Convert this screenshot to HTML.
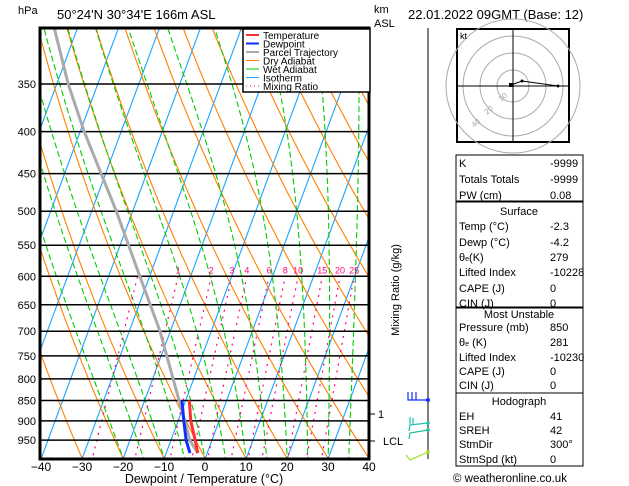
<!DOCTYPE html>
<html><head><meta charset="utf-8"><style>
html,body{margin:0;padding:0;background:#fff;}
svg{display:block;font-family:"Liberation Sans",sans-serif;}
</style></head><body>
<svg id="s" width="629" height="486" xmlns="http://www.w3.org/2000/svg">
<defs><clipPath id="pc"><rect x="40" y="28" width="329" height="431"/></clipPath></defs>
<g id="grid" clip-path="url(#pc)"></g>
<g id="series" clip-path="url(#pc)"></g>
<g id="axes"></g>
</svg>
<script>
// ---- data ----
const pressureLevels=[350,400,450,500,550,600,650,700,750,800,850,900,950];
const tempTicks=[-40,-30,-20,-10,0,10,20,30,40];
const isotherms=[-120,-110,-100,-90,-80,-70,-60,-50,-40,-30,-20,-10,0,10,20,30,40];
const dryAdiabatsC=[-60,-50,-40,-30,-20,-10,0,10,20,30,40,50,60,70,80,90,100,110,120,130,140,150];
const wetAdiabatsC=[-20,-15,-10,-5,0,5,10,15,20,25,30,35];
const mixRatios=[0.4,1,2,3,4,6,8,10,15,20,25];
const mixLabels=["1","2","3","4","6","8","10","15","20","25"];
const obsP=[985,950,900,850];
const obsT=[-2.3,-4.1,-6.9,-9.1];
const obsTd=[-4.2,-6.3,-8.6,-10.9];
const parcelP=[985,950,900,850,800,700,600,500,450,400,350,300];
const parcelT=[-2.3,-5.4,-8.4,-11.6,-15.0,-22.5,-32.4,-44.0,-51.1,-59.0,-67.2,-75.5];
// ---- axis functions ----
const SK=0.37, Y0=84, YS=356.7;
function py(p){return Y0+YS*(Math.log(p)-Math.log(350));}
function tx(T,p){return 205+4.1*T+SK*(459-py(p));}
const NS="http://www.w3.org/2000/svg";
function mk(tag,parent,attrs){const e=document.createElementNS(NS,tag);for(const k in attrs)e.setAttribute(k,attrs[k]);parent.appendChild(e);return e;}
const grid=document.getElementById('grid'),ser=document.getElementById('series'),ax=document.getElementById('axes'),svg=document.getElementById('s');
function pathFrom(pts){return pts.map((q,i)=>(i?'L':'M')+q[0].toFixed(1)+' '+q[1].toFixed(1)).join('');}
isotherms.forEach(T=>{
 const e=mk('path',grid,{d:pathFrom([[tx(T,1010),py(1010)],[tx(T,290),py(290)]]),stroke:'#1aa3ff',fill:'none','stroke-width':1.1});
 
 
});
dryAdiabatsC.forEach(tc=>{
 const th=tc+273.15,pts=[];
 for(let p=1010;p>=290;p-=10)pts.push([tx(th*Math.pow(p/1000,0.2857)-273.15,p),py(p)]);
 const e=mk('path',grid,{d:pathFrom(pts),stroke:'#ff8000',fill:'none','stroke-width':1.1});
 
 
});
function es(tc){return 6.112*Math.exp(17.67*tc/(tc+243.5));}
function moist(T0,p0,p1){const pts=[];let T=T0+273.15,p=p0,dp=p1<p0?-2:2;
 while((dp<0&&p>=p1)||(dp>0&&p<=p1)){pts.push([T-273.15,p]);
  const e=es(T-273.15),rs=0.622*e/(p-e),Rd=287,Lv=2.5e6,cp=1005;
  const g=(Rd*T+Lv*rs)/(cp+Lv*Lv*rs*0.622/(Rd*T*T))/p; T+=g*dp; p+=dp;}
 return pts;}
wetAdiabatsC.forEach(tw=>{
 const pts=moist(tw,1000,290);
 const down=moist(tw,1000,1012).reverse();
 const all=down.concat(pts).map(q=>[tx(q[0],q[1]),py(q[1])]);
 const e=mk('path',grid,{d:pathFrom(all),stroke:'#00cc00',fill:'none','stroke-width':1.1,'stroke-dasharray':'6,3'});
 
 
});
function tdFromW(w,p){const e=w*p/(622+w);const l=Math.log(e/6.112);return 243.5*l/(17.67-l);}
mixRatios.forEach(w=>{
 const e=mk('path',grid,{d:pathFrom([[tx(tdFromW(w,1010),1010),py(1010)],[tx(tdFromW(w,600),600),py(600)]]),stroke:'#ff0080',fill:'none','stroke-width':1.2,'stroke-dasharray':'2,5'});
 
 
});
mixLabels.forEach(s=>{
 const w=parseFloat(s);
 const t=mk('text',grid,{x:tx(tdFromW(w,600),600),y:py(600)-3,fill:'#ff0080','font-size':9,'text-anchor':'middle'});t.textContent=s;
 
 
});
pressureLevels.forEach(p=>{
 const e=mk('line',grid,{x1:40,x2:369,y1:py(p),y2:py(p),stroke:'#000','stroke-width':1.5});
 
 
 const t=mk('text',ax,{x:36,y:py(p)+4,'font-size':11,'text-anchor':'end'});t.textContent=p;
 
 
});
function line(P,T,color,w,name){const e=mk('path',ser,{d:pathFrom(P.map((p,i)=>[tx(T[i],p),py(p)])),stroke:color,fill:'none','stroke-width':w});
 
 }
line(parcelP,parcelT,'#aaaaaa',3,'parcel-trajectory');
line(obsP,obsTd,'#1030ff',3,'dewpoint-line');
line(obsP,obsT,'#ff3030',3,'temperature-line');
const fr=mk('rect',ax,{x:40,y:28,width:329,height:431,fill:'none',stroke:'#000','stroke-width':3});


tempTicks.forEach(T=>{
 const t=mk('text',ax,{x:205+4.1*T,y:471,'font-size':12,'text-anchor':'middle'});t.textContent=T===0?'0':(T<0?'\u2212'+(-T):T);
 
 
});
</script>
<script>
const S=document.getElementById('s');
S.insertAdjacentHTML('beforeend',`
<text x="18" y="14" font-size="11">hPa</text>
<text x="57" y="19" font-size="13">50°24'N  30°34'E  166m  ASL</text>
<text x="374" y="13" font-size="11">km</text>
<text x="374" y="27" font-size="11">ASL</text>
<text x="408" y="19" font-size="13">22.01.2022  09GMT  (Base: 12)</text>
<text x="204" y="483" font-size="12.5" text-anchor="middle">Dewpoint / Temperature (°C)</text>
<text transform="translate(399,290) rotate(-90)" font-size="11" text-anchor="middle">Mixing Ratio (g/kg)</text>
<g>
<rect x="243" y="29" width="127" height="63" fill="#fff" stroke="#000" stroke-width="1.5"/>
<line x1="246" x2="259" y1="35" y2="35" stroke="#ff3030" stroke-width="2"/><text x="263" y="39" font-size="10">Temperature</text>
<line x1="246" x2="259" y1="43.5" y2="43.5" stroke="#1030ff" stroke-width="2"/><text x="263" y="47.5" font-size="10">Dewpoint</text>
<line x1="246" x2="259" y1="52" y2="52" stroke="#aaa" stroke-width="2"/><text x="263" y="56" font-size="10">Parcel Trajectory</text>
<line x1="246" x2="259" y1="60.5" y2="60.5" stroke="#ff8000" stroke-width="1"/><text x="263" y="64.5" font-size="10">Dry Adiabat</text>
<line x1="246" x2="259" y1="69" y2="69" stroke="#00cc00" stroke-width="1"/><text x="263" y="73" font-size="10">Wet Adiabat</text>
<line x1="246" x2="259" y1="77.5" y2="77.5" stroke="#1aa3ff" stroke-width="1"/><text x="263" y="81.5" font-size="10">Isotherm</text>
<line x1="246" x2="259" y1="86" y2="86" stroke="#ff0080" stroke-width="1" stroke-dasharray="1,3"/><text x="263" y="90" font-size="10">Mixing Ratio</text>
</g>
<line x1="369" x2="375" y1="414" y2="414" stroke="#000"/><text x="378" y="418" font-size="11">1</text>
<line x1="369" x2="375" y1="441" y2="441" stroke="#000"/><text x="383" y="445" font-size="11">LCL</text>
<g>
<line x1="428" x2="428" y1="28" y2="459" stroke="#000" stroke-width="1"/>
<path d="M428 400H408V392M412 400V392M416 400V392" fill="none" stroke="#1030ff" stroke-width="1.2"/><circle cx="428" cy="400" r="2" fill="#1030ff"/>
<path d="M428 423L410 425V417M413 425V418M410 425L409 431" fill="none" stroke="#20c0b0" stroke-width="1.2"/><circle cx="428" cy="423" r="1.8" fill="#20c0b0"/>
<path d="M428 430L410 433L409 439" fill="none" stroke="#20c0a0" stroke-width="1.2"/><circle cx="428" cy="430" r="1.8" fill="#20c0a0"/>
<path d="M428 452L410 460L406 455" fill="none" stroke="#a0e020" stroke-width="1.2"/><circle cx="428" cy="452" r="1.8" fill="#a0e020"/>
</g>
<g>
<rect x="457" y="29" width="112" height="113" fill="#fff" stroke="#000" stroke-width="2"/>
<circle cx="513" cy="86" r="16" fill="none" stroke="#aaa"/>
<circle cx="513" cy="86" r="33" fill="none" stroke="#aaa"/>
<circle cx="513" cy="86" r="50" fill="none" stroke="#aaa"/>
<circle cx="513" cy="86" r="67" fill="none" stroke="#aaa"/>
<line x1="458" x2="568" y1="86" y2="86" stroke="#000"/><line x1="513" x2="513" y1="30" y2="141" stroke="#000"/>
<text x="460" y="39" font-size="9">kt</text>
<text x="501" y="102" font-size="8" fill="#aaa" transform="rotate(-40 501 102)">10</text>
<text x="487" y="115" font-size="8" fill="#aaa" transform="rotate(-40 487 115)">20</text>
<text x="474" y="128" font-size="8" fill="#aaa" transform="rotate(-40 474 128)">40</text>
<polyline points="511,85 522,81 558,86" fill="none" stroke="#000"/>
<circle cx="522" cy="81" r="1.5"/><circle cx="558" cy="86" r="1.5"/><rect x="509" y="83" width="4" height="4"/>
</g>
<g font-size="11">
<rect x="456" y="155" width="127" height="46" fill="none" stroke="#000"/>
<text x="459" y="167">K</text><text x="550" y="167">-9999</text>
<text x="459" y="183">Totals Totals</text><text x="550" y="183">-9999</text>
<text x="459" y="199">PW (cm)</text><text x="550" y="199">0.08</text>
<rect x="456" y="202" width="127" height="105" fill="none" stroke="#000"/>
<text x="519" y="215" text-anchor="middle">Surface</text>
<text x="459" y="230">Temp (°C)</text><text x="550" y="230">-2.3</text>
<text x="459" y="246">Dewp (°C)</text><text x="550" y="246">-4.2</text>
<text x="459" y="261">θ<tspan font-size="7">e</tspan>(K)</text><text x="550" y="261">279</text>
<text x="459" y="276">Lifted Index</text><text x="550" y="276">-10228</text>
<text x="459" y="292">CAPE (J)</text><text x="550" y="292">0</text>
<text x="459" y="307">CIN (J)</text><text x="550" y="307">0</text>
<rect x="456" y="308" width="127" height="85" fill="none" stroke="#000"/>
<text x="519" y="318" text-anchor="middle">Most Unstable</text>
<text x="459" y="331">Pressure (mb)</text><text x="550" y="331">850</text>
<text x="459" y="346">θ<tspan font-size="7">e</tspan> (K)</text><text x="550" y="346">281</text>
<text x="459" y="361">Lifted Index</text><text x="550" y="361">-10230</text>
<text x="459" y="375">CAPE (J)</text><text x="550" y="375">0</text>
<text x="459" y="389">CIN (J)</text><text x="550" y="389">0</text>
<rect x="456" y="393" width="127" height="73" fill="none" stroke="#000"/>
<text x="519" y="405" text-anchor="middle">Hodograph</text>
<text x="459" y="420">EH</text><text x="550" y="420">41</text>
<text x="459" y="434">SREH</text><text x="550" y="434">42</text>
<text x="459" y="448">StmDir</text><text x="550" y="448">300°</text>
<text x="459" y="463">StmSpd (kt)</text><text x="550" y="463">0</text>
</g>
<text x="453" y="482" font-size="11.5">© weatheronline.co.uk</text>
`);
</script>
</body></html>
